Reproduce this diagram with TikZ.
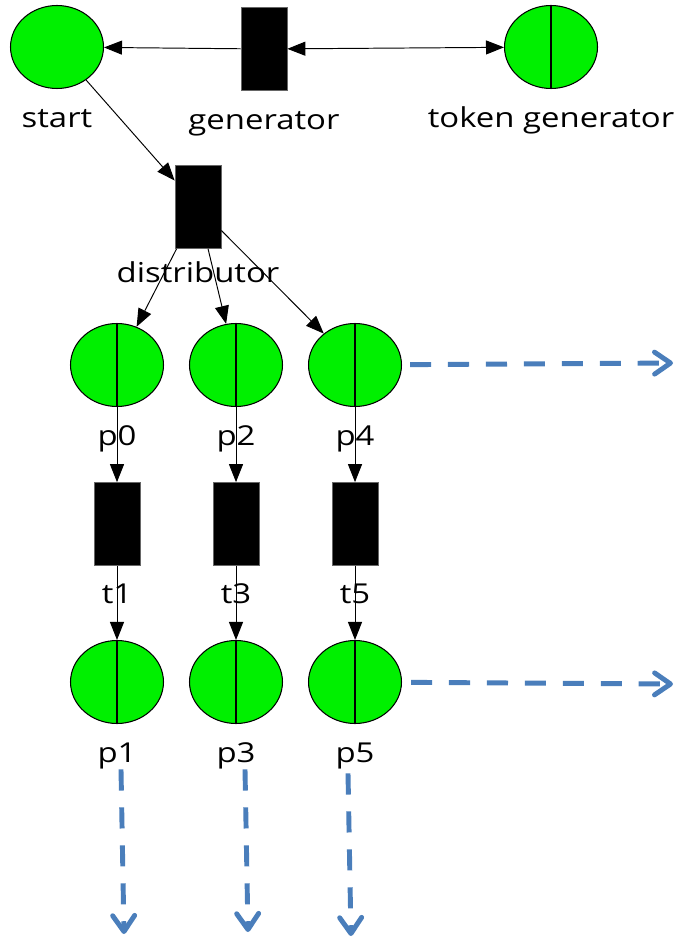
\documentclass[tikz,border=0pt]{standalone}
\usepackage{fontspec}
\usepackage{tikz}
\newfontfamily\lblfont{Open Sans}[FakeStretch=1.2]
\definecolor{PlaceGreen}{RGB}{0,240,0}
\definecolor{FlowBlue}{RGB}{74,126,187}
\usetikzlibrary{
	positioning,
	arrows.meta,
	shapes.geometric
}

\begin{document}
\begin{tikzpicture}[
	x=0.02cm, y=-0.02cm,
	place/.style={ellipse, draw, line width=0.6pt, fill=PlaceGreen, minimum width=1.86cm, minimum height=1.66cm, inner sep=0pt},
	splitplace/.style={place, path picture={\draw[line width=0.6pt] (path picture bounding box.north) -- (path picture bounding box.south);}},
	transition/.style={rectangle, draw=black!60, fill=black, minimum width=0.92cm, minimum height=1.66cm, inner sep=0pt},
	lbl/.style={font=\lblfont\fontsize{15.6}{18}\selectfont, inner sep=0pt},
	pnarc/.style={line width=0.55pt, -{Triangle[length=0.36cm, width=0.28cm]}},
	pnboth/.style={line width=0.55pt, {Triangle[length=0.36cm, width=0.28cm]}-{Triangle[length=0.36cm, width=0.28cm]}},
	flow/.style={FlowBlue, line width=2.8pt, dash pattern=on 12pt off 9.6pt, -{Straight Barb[length=0.32cm, width=0.44cm, round]}}
]
	\useasboundingbox (0,0) rectangle (679,942);

	\node[place] (start) at (57,47) {};
	\node[transition] (gen) at (264,49) {};
	\node[splitplace] (tokgen) at (551,47) {};
	\node[lbl, below=0.77cm of start, anchor=base] (startlbl) {start};
	\node[lbl, below=0.77cm of gen, anchor=base] (genlbl) {generator};
	\node[lbl, below=0.77cm of tokgen, anchor=base] (tokgenlbl) {token generator};
	\draw[pnarc] (gen) -- (start);
	\draw[pnboth] (gen) -- (tokgen);

	\node[transition] (distr) at (198,207) {};
	\node[lbl, below=0.68cm of distr, anchor=base] (distrlbl) {distributor};
	\draw[pnarc] (start) -- (distr);

	\node[splitplace] (p0) at (117,365) {};
	\node[splitplace] (p2) at (236,365) {};
	\node[splitplace] (p4) at (355,365) {};
	\node[lbl, below=0.77cm of p0, anchor=base] (p0lbl) {p0};
	\node[lbl, below=0.77cm of p2, anchor=base] (p2lbl) {p2};
	\node[lbl, below=0.77cm of p4, anchor=base] (p4lbl) {p4};
	\draw[pnarc] (distr) -- (p0);
	\draw[pnarc] (distr) -- (p2);
	\draw[pnarc] (distr) -- (p4);

	\node[transition] (t1) at (117,524) {};
	\node[transition] (t3) at (236,524) {};
	\node[transition] (t5) at (355,524) {};
	\node[lbl, below=0.75cm of t1, anchor=base] (t1lbl) {t1};
	\node[lbl, below=0.75cm of t3, anchor=base] (t3lbl) {t3};
	\node[lbl, below=0.75cm of t5, anchor=base] (t5lbl) {t5};
	\draw[pnarc] (p0) -- (t1);
	\draw[pnarc] (p2) -- (t3);
	\draw[pnarc] (p4) -- (t5);

	\node[splitplace] (p1) at (117,682) {};
	\node[splitplace] (p3) at (236,682) {};
	\node[splitplace] (p5) at (355,682) {};
	\node[lbl, below=0.77cm of p1, anchor=base] (p1lbl) {p1};
	\node[lbl, below=0.77cm of p3, anchor=base] (p3lbl) {p3};
	\node[lbl, below=0.77cm of p5, anchor=base] (p5lbl) {p5};
	\draw[pnarc] (t1) -- (p1);
	\draw[pnarc] (t3) -- (p3);
	\draw[pnarc] (t5) -- (p5);

	% outgoing flows
	\coordinate (out4) at (673,363);
	\coordinate (out5) at (673,684);
	\coordinate (out1) at (124,934);
	\coordinate (out3) at (248,932);
	\coordinate (out6) at (351,936);
	\draw[flow, shorten <=0.16cm] (p4) -- (out4);
	\draw[flow, shorten <=0.18cm] (p5) -- (out5);
	\draw[flow] ([xshift=0.08cm]p1lbl.south) -- (out1);
	\draw[flow] ([xshift=0.18cm]p3lbl.south) -- (out3);
	\draw[flow] ([xshift=-0.14cm, yshift=-0.08cm]p5lbl.south) -- (out6);

\end{tikzpicture}
\end{document}
